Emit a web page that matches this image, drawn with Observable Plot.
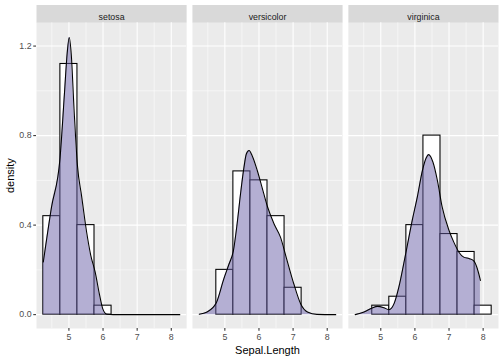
<!DOCTYPE html>
<html><head><meta charset="utf-8">
<script src="https://cdn.jsdelivr.net/npm/d3@7"></script>
<script src="https://cdn.jsdelivr.net/npm/@observablehq/plot@0.6"></script>
<style>
html,body{margin:0;padding:0;background:#fff;}
#chart svg{display:block;}
</style></head><body><div id="chart"></div>
<script>
const species = ["setosa", "versicolor", "virginica"];
const binWidth = 0.5;
const setosaBinStarts = [4.25, 4.75, 5.25, 5.75];
const setosaBinDensity = [0.44, 1.12, 0.40, 0.04];
const versicolorBinStarts = [4.75, 5.25, 5.75, 6.25, 6.75];
const versicolorBinDensity = [0.20, 0.64, 0.60, 0.44, 0.12];
const virginicaBinStarts = [4.75, 5.25, 5.75, 6.25, 6.75, 7.25, 7.75];
const virginicaBinDensity = [0.04, 0.08, 0.40, 0.80, 0.36, 0.28, 0.04];

const setosaCurveX = [4.25, 4.49, 4.74, 4.87, 4.95, 5.01, 5.07, 5.15, 5.25, 5.37, 5.52, 5.64, 5.77, 5.89, 5.99, 6.11, 6.3, 8.25];
const setosaCurveY = [0.235, 0.48, 0.70, 0.99, 1.17, 1.238, 1.16, 0.92, 0.666, 0.532, 0.368, 0.265, 0.19, 0.094, 0.027, 0.002, 0, 0];
const versicolorCurveX = [4.25, 4.48, 4.75, 4.97, 5.12, 5.25, 5.36, 5.46, 5.56, 5.63, 5.71, 5.80, 5.95, 6.09, 6.25, 6.44, 6.63, 6.80, 7.02, 7.22, 7.42, 7.7, 8.25];
const versicolorCurveY = [0.002, 0.012, 0.053, 0.16, 0.225, 0.285, 0.406, 0.54, 0.658, 0.718, 0.733, 0.71, 0.644, 0.569, 0.482, 0.406, 0.346, 0.255, 0.138, 0.049, 0.012, 0.001, 0];
const virginicaCurveX = [4.25, 4.51, 4.75, 4.9, 5.09, 5.24, 5.39, 5.53, 5.73, 5.92, 6.07, 6.22, 6.34, 6.40, 6.53, 6.66, 6.80, 7.0, 7.14, 7.29, 7.43, 7.6, 7.73, 7.83, 7.92];
const virginicaCurveY = [0.0, 0.012, 0.03, 0.037, 0.031, 0.022, 0.049, 0.123, 0.272, 0.42, 0.525, 0.644, 0.703, 0.715, 0.681, 0.599, 0.48, 0.376, 0.324, 0.279, 0.257, 0.25, 0.239, 0.205, 0.153];

const xTicks = [5, 6, 7, 8];
const xMinorTicks = [4.5, 5.5, 6.5, 7.5];
const yTicks = [0, 0.4, 0.8, 1.2];
const yMinorTicks = [0.2, 0.6, 1.0];
const xDomain = [4.05, 8.45];
const yDomain = [-0.062, 1.304];

const binSets = {
  setosa: [setosaBinStarts, setosaBinDensity],
  versicolor: [versicolorBinStarts, versicolorBinDensity],
  virginica: [virginicaBinStarts, virginicaBinDensity]
};
const curveSets = {
  setosa: [setosaCurveX, setosaCurveY],
  versicolor: [versicolorCurveX, versicolorCurveY],
  virginica: [virginicaCurveX, virginicaCurveY]
};
const bins = species.flatMap(s => binSets[s][0].map((x1, i) => ({species: s, x1, x2: x1 + binWidth, density: binSets[s][1][i]})));
const curves = species.flatMap(s => curveSets[s][0].map((x, i) => ({species: s, x, y: curveSets[s][1][i]})));

const font = "'Liberation Sans', Arial, Helvetica, sans-serif";

const plot = Plot.plot({
  width: 504,
  height: 360,
  marginTop: 22.3,
  marginBottom: 32,
  marginLeft: 36,
  marginRight: 6,
  style: {fontFamily: font, background: "white", overflow: "visible"},
  x: {domain: xDomain},
  y: {domain: yDomain},
  fx: {domain: species, paddingInner: 0.0372, paddingOuter: 0, round: false, axis: null, label: null},
  marks: [
    Plot.frame({fill: "#ebebeb", ariaLabel: "panel"}),
    Plot.ruleX(xMinorTicks, {stroke: "white", strokeWidth: 0.53}),
    Plot.ruleY(yMinorTicks, {stroke: "white", strokeWidth: 0.53}),
    Plot.ruleX(xTicks, {stroke: "white", strokeWidth: 1.07}),
    Plot.ruleY(yTicks, {stroke: "white", strokeWidth: 1.07}),
    Plot.rectY(bins, {fx: "species", x1: "x1", x2: "x2", y: "density", fill: "white", stroke: "black", strokeWidth: 1.07}),
    Plot.areaY(curves, {fx: "species", x: "x", y: "y", fill: "#6a5fa8", fillOpacity: 0.5, curve: "monotone-x"}),
    Plot.lineY(curves, {fx: "species", x: "x", y: "y", stroke: "black", strokeWidth: 1.07, curve: "monotone-x"}),
    Plot.axisX({ticks: xTicks, tickSize: 2.75, tickPadding: 2.2, tickFormat: d3.format("d"), stroke: "#333333", strokeWidth: 1.07, fill: "#4d4d4d", fontSize: 8.8, label: null}),
    Plot.axisY({ticks: yTicks, tickSize: 2.75, tickPadding: 2.2, tickFormat: d3.format(".1f"), stroke: "#333333", strokeWidth: 1.07, fill: "#4d4d4d", fontSize: 8.8, label: null}),
    Plot.axisX({ticks: [], label: "Sepal.Length", labelAnchor: "center", labelArrow: "none", labelOffset: 25, fontSize: 11, fill: "black"}),
    Plot.axisY({ticks: [], label: "density", labelAnchor: "center", labelArrow: "none", labelOffset: 30, fontSize: 11, fill: "black"}),
    Plot.text(species, {fx: d => d, text: d => d, frameAnchor: "top", dy: -8.65, fontSize: 8.8, fill: "#1a1a1a", ariaLabel: "strip"})
  ]
});
const holder = document.getElementById("chart");
holder.append(plot);
const svgEl = plot.tagName.toLowerCase() === "svg" ? plot : plot.querySelector("svg");
const sb = svgEl.getBoundingClientRect();
const panelEls = [];
svgEl.querySelectorAll('[aria-label="panel"]').forEach(el => {
  if (el.tagName.toLowerCase() === "rect") panelEls.push(el);
  else el.querySelectorAll("rect").forEach(r => panelEls.push(r));
});
const stripTop = 5;
panelEls.forEach(r => {
  const b = r.getBoundingClientRect();
  const rect = document.createElementNS("http://www.w3.org/2000/svg", "rect");
  rect.setAttribute("x", b.left - sb.left);
  rect.setAttribute("y", stripTop);
  rect.setAttribute("width", b.width);
  rect.setAttribute("height", b.top - sb.top - stripTop);
  rect.setAttribute("fill", "#d9d9d9");
  const first = [...svgEl.children].find(c => c.tagName.toLowerCase() !== "style");
  svgEl.insertBefore(rect, first);
});
</script></body></html>
